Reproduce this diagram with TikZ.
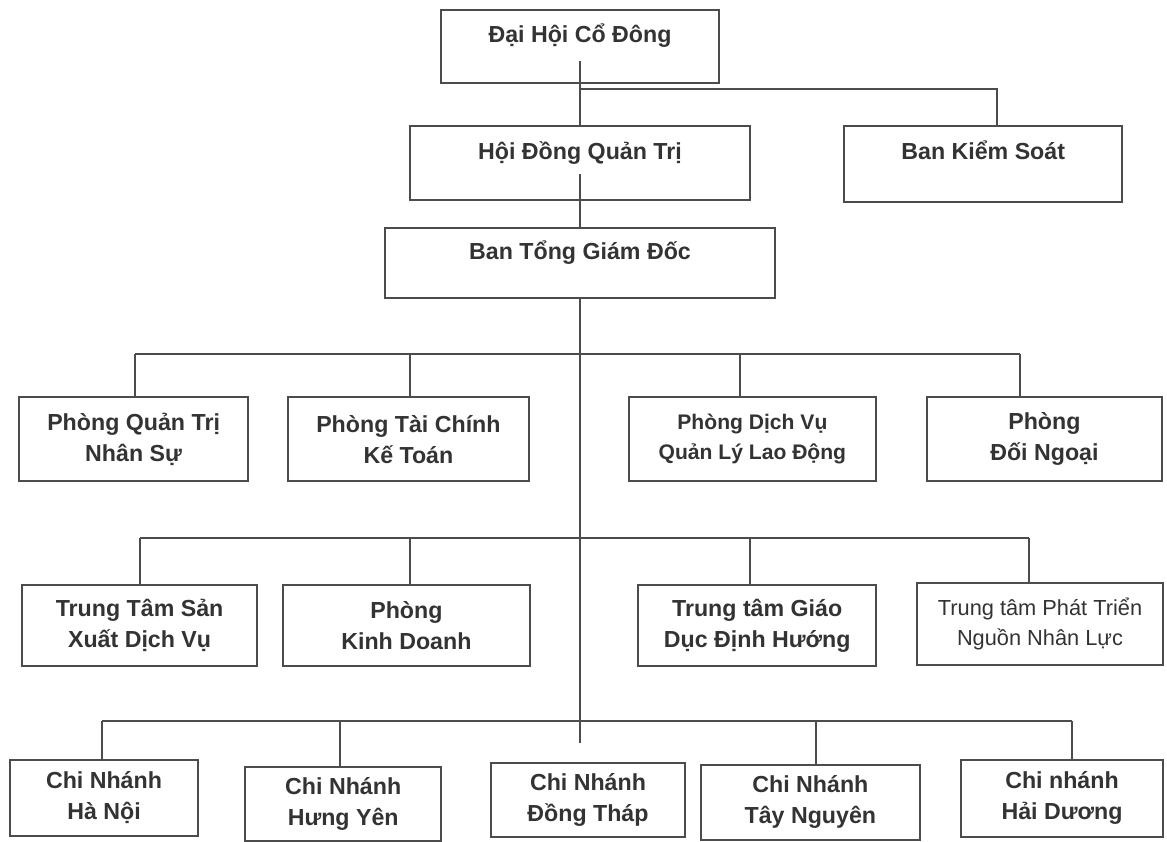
\documentclass[tikz,border=0pt]{standalone}
\usepackage{fontspec}
\setmainfont{Liberation Sans}

\begin{document}
\begin{tikzpicture}[
        box/.style={rectangle, draw=black!70, line width=1.5pt, align=center, text=black!80, inner sep=2pt, font=\bfseries\fontsize{16.5}{22}\selectfont},
        topbox/.style={box, text height=0.45cm, text depth=0.65cm},
        line/.style={draw=black!70, line width=1.3pt}
    ]
        \useasboundingbox[fill=white] (0,0) rectangle (29.175,-21.05);

        % Top levels
        \node[topbox, minimum width=6.93cm, minimum height=1.83cm] (dhcd) at (14.5,-1.16) {Đại Hội Cổ Đông};
        \node[topbox, minimum width=8.5cm, minimum height=1.85cm] (hdqt) at (14.5,-4.08) {Hội Đồng Quản Trị};
        \node[topbox, minimum width=6.95cm, minimum height=1.9cm] (bks) at (24.58,-4.1) {Ban Kiểm Soát};
        \node[topbox, minimum width=9.75cm, minimum height=1.75cm] (btgd) at (14.5,-6.58) {Ban Tổng Giám Đốc};

        % Row of departments
        \node[box, minimum width=5.73cm, minimum height=2.1cm] (pqtns) at (3.34,-10.98) {Phòng Quản Trị\\Nhân Sự};
        \node[box, minimum width=6.03cm, minimum height=2.1cm] (ptckt) at (10.21,-10.98) {Phòng Tài Chính\\Kế Toán};
        \node[box, minimum width=6.18cm, minimum height=2.1cm, font=\bfseries\fontsize{15}{21}\selectfont] (pdvql) at (18.81,-10.98) {Phòng Dịch Vụ\\Quản Lý Lao Động};
        \node[box, minimum width=5.88cm, minimum height=2.1cm] (pdn) at (26.11,-10.98) {Phòng\\Đối Ngoại};

        % Row of centres
        \node[box, minimum width=5.88cm, minimum height=2.03cm] (ttsx) at (3.49,-15.64) {Trung Tâm Sản\\Xuất Dịch Vụ};
        \node[box, minimum width=6.18cm, minimum height=2.03cm] (pkd) at (10.16,-15.64) {Phòng\\Kinh Doanh};
        \node[box, minimum width=5.95cm, minimum height=2.03cm] (ttgd) at (18.93,-15.64) {Trung tâm Giáo\\Dục Định Hướng};
        \node[box, minimum width=6.15cm, minimum height=2.03cm, font=\fontsize{15.5}{21}\selectfont] (ttpt) at (26.0,-15.6) {Trung tâm Phát Triển\\Nguồn Nhân Lực};

        % Branches
        \node[box, minimum width=4.7cm, minimum height=1.9cm] (cnhn) at (2.6,-19.95) {Chi Nhánh\\Hà Nội};
        \node[box, minimum width=4.9cm, minimum height=1.85cm] (cnhy) at (8.58,-20.1) {Chi Nhánh\\Hưng Yên};
        \node[box, minimum width=4.85cm, minimum height=1.85cm] (cndt) at (14.7,-20.0) {Chi Nhánh\\Đồng Tháp};
        \node[box, minimum width=5.48cm, minimum height=1.88cm] (cntn) at (20.26,-20.06) {Chi Nhánh\\Tây Nguyên};
        \node[box, minimum width=5.05cm, minimum height=1.92cm] (cnhd) at (26.55,-19.96) {Chi nhánh\\Hải Dương};

        % Bus levels
        \coordinate (bus1) at (0,-2.23);
        \coordinate (bus2) at (0,-8.85);
        \coordinate (bus3) at (0,-13.45);
        \coordinate (bus4) at (0,-18.03);
        \coordinate (trunkend) at (14.5,-18.58);

        % Main trunk
        \draw[line] ([yshift=0.58cm]dhcd.south) -- (hdqt.north);
        \draw[line] (dhcd.south |- bus1) -| ([xshift=0.35cm]bks.north);
        \draw[line] ([yshift=0.68cm]hdqt.south) -- (btgd.north);
        \draw[line] (btgd.south) -- (trunkend);

        % Drops to each row
        \foreach \n/\dx in {pqtns/0.04, ptckt/0.04, pdvql/-0.31, pdn/-0.61} {
            \coordinate (\n-top) at ([xshift=\dx cm]\n.north);
            \draw[line] (\n-top |- bus2) -- (\n-top);
        }
        \draw[line] (pqtns-top |- bus2) -- (pdn-top |- bus2);

        \foreach \n/\dx in {ttsx/0.01, pkd/0.09, ttgd/-0.18, ttpt/-0.28} {
            \coordinate (\n-top) at ([xshift=\dx cm]\n.north);
            \draw[line] (\n-top |- bus3) -- (\n-top);
        }
        \draw[line] (ttsx-top |- bus3) -- (ttpt-top |- bus3);

        \foreach \n/\dx in {cnhn/-0.05, cnhy/-0.08, cntn/0.14, cnhd/0.25} {
            \coordinate (\n-top) at ([xshift=\dx cm]\n.north);
            \draw[line] (\n-top |- bus4) -- (\n-top);
        }
        \draw[line] (cnhn-top |- bus4) -- (cnhd-top |- bus4);

    \end{tikzpicture}
\end{document}
